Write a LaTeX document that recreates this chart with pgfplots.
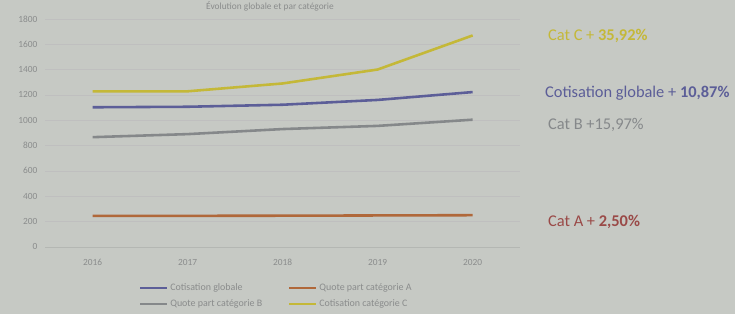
\documentclass[border=0pt]{standalone}
\usepackage{pgfplots}
\pgfplotsset{compat=1.18}
\usepackage{fontspec}
\setmainfont{Carlito}
\definecolor{bg}{HTML}{C6C9C4}
\definecolor{cglob}{HTML}{5C5E98}
\definecolor{ca}{HTML}{B0683A}
\definecolor{cb}{HTML}{85888A}
\definecolor{cc}{HTML}{C4B838}
\definecolor{txt}{HTML}{8A8C8C}
\definecolor{grid}{HTML}{B4B7B3}
\definecolor{ared}{HTML}{9A4A48}
\begin{document}
\begin{tikzpicture}[x=0.03cm,y=0.03cm]
\useasboundingbox (0,0) rectangle (735,314);
\clip (0,0) rectangle (735,314);
\fill[bg] (0,0) rectangle (735,314);
\begin{axis}[
  at={(47.5,53)}, anchor=south west,
  scale only axis, width=14.25cm, height=6.84cm,
  xmin=-0.5, xmax=4.5, ymin=0, ymax=1800,
  xtick={0,1,2,3,4}, xticklabels={2016,2017,2018,2019,2020},
  ytick={0,200,...,1800},
  axis x line*=bottom, axis y line*=left,
  axis line style={draw=none},
  xmajorgrids=false, xminorgrids=false, minor tick num=0,
  ymajorgrids, grid style={grid, line width=0.5pt},
  tick label style={font=\fontsize{8}{9}\selectfont, text=txt},
  /pgf/number format/assume math mode=true,
  /pgf/number format/1000 sep={},
  major tick length=0pt, tick style={draw=none},
  xticklabel style={yshift=-7pt},
  yticklabel style={xshift=-3pt},
  clip=false,
  legend columns=2,
  legend style={at={(0.487,-0.14)}, anchor=north, draw=none, fill=none,
    font=\fontsize{8.5}{10}\selectfont, text=txt, row sep=2pt,
    /tikz/every even column/.append style={column sep=20pt}},
  legend cell align=left,
  legend image code/.code={\draw[#1, line width=2pt] (0cm,0cm) -- (0.8cm,0cm);},
  every axis plot/.append style={line width=2.2pt},
]
\draw[grid, line width=0.6pt] (axis cs:-0.5,0) -- (axis cs:4.5,0);
\addplot[cglob] coordinates {(0,1102) (1,1106) (2,1122) (3,1160) (4,1222)};
\addlegendentry{Cotisation globale}
\addplot[ca] coordinates {(0,244) (1,245) (2,246) (3,248) (4,250)};
\addlegendentry{Quote part catégorie A}
\addplot[cb] coordinates {(0,866) (1,890) (2,930) (3,955) (4,1004)};
\addlegendentry{Quote part catégorie B}
\addplot[cc] coordinates {(0,1228) (1,1228) (2,1290) (3,1400) (4,1669)};
\addlegendentry{Cotisation catégorie C}
\end{axis}
\node[anchor=north, font=\fontsize{8}{9}\selectfont, text=txt, inner sep=1pt] at (270,314) {Évolution globale et par catégorie};
\node[anchor=west, font=\fontsize{14}{16}\selectfont, text=cc] at (544,278) {Cat C + \textbf{35,92\%}};
\node[anchor=west, font=\fontsize{14}{16}\selectfont, text=cglob] at (541,221) {Cotisation globale + \textbf{10,87\%}};
\node[anchor=west, font=\fontsize{14}{16}\selectfont, text=cb] at (544,189) {Cat B +15,97\%};
\node[anchor=west, font=\fontsize{14}{16}\selectfont, text=ared] at (544,92) {Cat A + \textbf{2,50\%}};
\end{tikzpicture}
\end{document}
